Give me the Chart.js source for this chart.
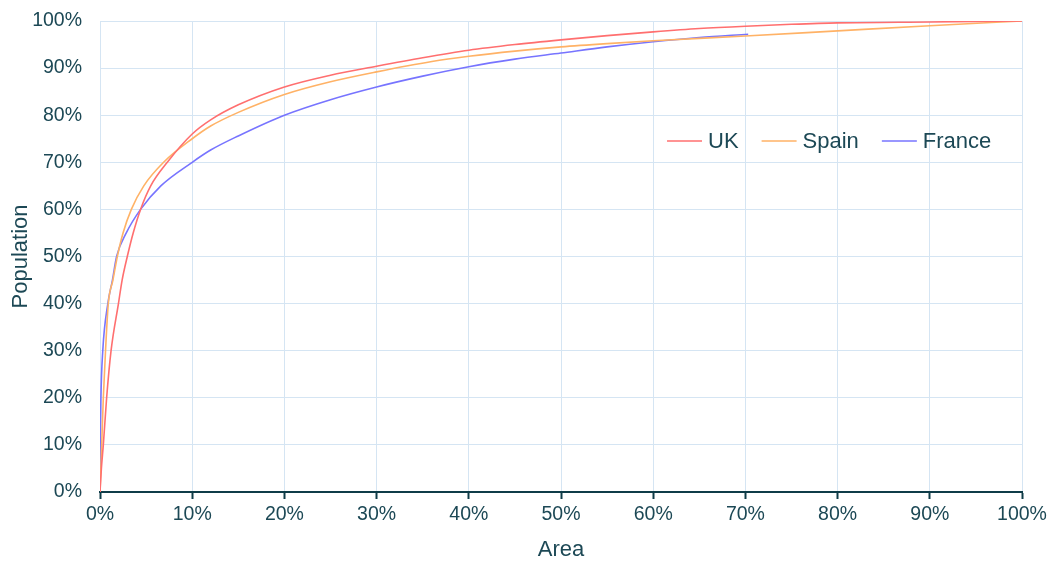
<!DOCTYPE html>
<html>
<head>
<meta charset="utf-8">
<script src="https://cdn.jsdelivr.net/npm/chart.js@4/dist/chart.umd.min.js"></script>
<style>
  html, body { margin: 0; padding: 0; background: #fff; }
  #wrap { width: 1053px; height: 563px; }
</style>
</head>
<body>
<div id="wrap"><canvas id="myChart"></canvas></div>
<script>
// values: area % and population %
const ukArea = [0, 0.15, 0.36, 0.72, 1.2, 2.0, 2.4, 2.96, 3.6, 4.4, 5.5, 7.3, 10, 12, 15, 20, 25, 30, 35, 40, 45, 50, 55, 60, 65, 70, 75, 80, 90, 100];
const ukPop  = [0, 5, 10, 20, 30, 40, 45, 50, 55, 60, 65, 70, 76, 79, 82.2, 86, 88.5, 90.4, 92.2, 93.8, 95, 96, 96.9, 97.7, 98.4, 98.9, 99.3, 99.6, 99.8, 100];

const spainArea = [0, 0.15, 0.36, 0.6, 0.9, 1.4, 1.88, 2.5, 3.4, 4.75, 6.9, 10, 12, 15, 20, 25, 30, 36, 40, 45, 50, 55, 60, 70, 80, 90, 100];
const spainPop  = [0, 8, 20, 30, 40, 45, 50, 55, 60, 65, 70, 75, 77.7, 80.6, 84.4, 87.1, 89.2, 91.4, 92.5, 93.6, 94.5, 95.2, 95.8, 96.8, 97.9, 99, 100];

const franceArea = [0, 0.03, 0.1, 0.3, 0.85, 1.35, 1.8, 2.85, 4.4, 6.6, 10, 12, 15, 20, 25, 30, 35, 40, 45, 50, 55, 60, 65, 70.3];
const francePop  = [0, 10, 20, 30, 40, 45, 50, 55, 60, 65, 70, 72.6, 75.6, 80, 83.3, 86, 88.3, 90.3, 91.9, 93.2, 94.5, 95.6, 96.5, 97.2];

const seriesNames = ['UK', 'Spain', 'France'];
const seriesColors = ['#ff6f6f', '#ffb266', '#7774ff'];

const textColor = '#1c4855';
const gridColor = '#d5e5f3';
const axisColor = '#0f3c48';
const fontFamily = '"Liberation Sans", Arial, sans-serif';

function toPoints(xs, ys) {
    return xs.map((x, i) => ({ x: x, y: ys[i] }));
}

const allData = [toPoints(ukArea, ukPop), toPoints(spainArea, spainPop), toPoints(franceArea, francePop)];

// legend drawn inside the plot, on the right
const insideLegend = {
    id: 'insideLegend',
    afterDatasetsDraw(chart) {
        const ctx = chart.ctx;
        const area = chart.chartArea;
        const y = area.top + (area.bottom - area.top) * 0.255;
        let x = area.left + (area.right - area.left) * 0.615;
        ctx.save();
        ctx.font = '22px ' + fontFamily;
        ctx.textBaseline = 'middle';
        chart.data.datasets.forEach(ds => {
            ctx.strokeStyle = ds.borderColor;
            ctx.lineWidth = 1.5;
            ctx.beginPath();
            ctx.moveTo(x, y);
            ctx.lineTo(x + 35, y);
            ctx.stroke();
            ctx.fillStyle = textColor;
            ctx.fillText(ds.label, x + 41, y + 1);
            x += 41 + ctx.measureText(ds.label).width + 23;
        });
        ctx.restore();
    }
};

const myChart = document.getElementById('myChart');

new Chart(myChart, {
    type: 'line',
    data: {
        datasets: seriesNames.map((name, i) => ({
            label: name,
            data: allData[i],
            borderColor: seriesColors[i],
            backgroundColor: seriesColors[i],
            borderWidth: 1.6,
            pointRadius: 0,
            fill: false,
            cubicInterpolationMode: 'monotone'
        }))
    },
    options: {
        responsive: true,
        maintainAspectRatio: false,
        animation: false,
        layout: { padding: { top: 21, right: 31, left: 8, bottom: 0 } },
        plugins: {
            legend: { display: false },
            tooltip: { enabled: false }
        },
        scales: {
            x: {
                type: 'linear',
                min: 0,
                max: 100,
                ticks: {
                    stepSize: 10,
                    color: textColor,
                    font: { family: fontFamily, size: 19.5 },
                    padding: 4,
                    callback: v => v + '%'
                },
                grid: { color: gridColor, lineWidth: 1, tickLength: 7, tickColor: axisColor, tickWidth: 2 },
                border: { color: axisColor, width: 2 },
                title: {
                    display: true,
                    text: 'Area',
                    color: textColor,
                    font: { family: fontFamily, size: 22 },
                    padding: { top: 2, bottom: 0 }
                },
                afterFit: scale => { scale.height = 71; }
            },
            y: {
                min: 0,
                max: 100,
                ticks: {
                    stepSize: 10,
                    color: textColor,
                    font: { family: fontFamily, size: 19.5 },
                    padding: 0,
                    callback: v => v + '%'
                },
                // invisible tick marks keep the labels away from the plot
                grid: { color: gridColor, lineWidth: 1, drawTicks: true, tickLength: 18, tickColor: 'rgba(0,0,0,0)' },
                border: { display: false },
                title: {
                    display: true,
                    text: 'Population',
                    color: textColor,
                    font: { family: fontFamily, size: 22 },
                    padding: { top: 0, bottom: 0 }
                },
                afterFit: scale => { scale.width = 92; }
            }
        }
    },
    plugins: [insideLegend]
});
</script>
</body>
</html>
